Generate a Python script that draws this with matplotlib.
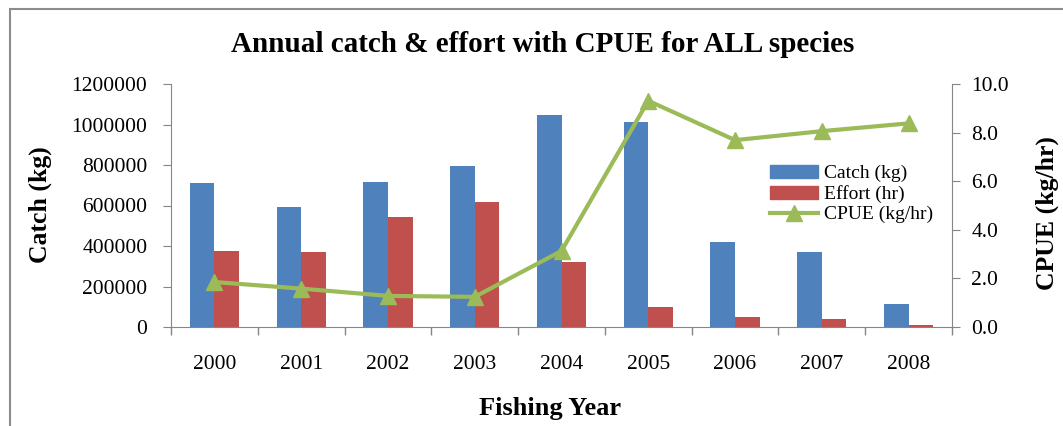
import numpy as np
import matplotlib.pyplot as plt
import matplotlib as mpl
from matplotlib.lines import Line2D
from matplotlib.patches import Rectangle, Patch

mpl.rcParams['font.family'] = 'Liberation Serif'

years = ['2000', '2001', '2002', '2003', '2004', '2005', '2006', '2007', '2008']
catch = [709000, 592000, 717000, 795000, 1049000, 1012000, 420000, 369000, 112000]
effort = [373000, 368000, 542000, 615000, 323000, 100000, 49000, 40000, 11000]
cpue = [1.85, 1.58, 1.28, 1.24, 3.13, 9.31, 7.69, 8.06, 8.38]

c_blue = '#4F81BD'
c_red = '#C0504D'
c_green = '#9BBB59'
c_axis = '#868686'

fig = plt.figure(figsize=(10.63, 4.26), dpi=100)
fig.patches.append(Rectangle((10 / 1063, -0.1), 1.2, 1 - 9 / 426 + 0.1, transform=fig.transFigure,
                             fill=False, edgecolor='#8c8c8c', linewidth=1.5))

ax = fig.add_axes([171 / 1063, 1 - 327 / 426, (952 - 171) / 1063, (327 - 84) / 426])
ax2 = ax.twinx()

x = np.arange(len(years))
w = 0.284
ax.bar(x - w / 2, catch, width=w, color=c_blue, label='Catch (kg)', zorder=2)
ax.bar(x + w / 2, effort, width=w, color=c_red, label='Effort (hr)', zorder=2)
ax2.plot(x, cpue, color=c_green, linewidth=3, marker='^', markersize=12, label='CPUE (kg/hr)')

ax.set_xlim(-0.5, len(years) - 0.5)
ax.set_ylim(0, 1200000)
ax.set_yticks(np.arange(0, 1200001, 200000))
ax.set_yticklabels([str(v) for v in range(0, 1200001, 200000)])
ax2.set_ylim(0, 10)
ax2.set_yticks(np.arange(0, 10.1, 2))
ax2.set_yticklabels(['%.1f' % v for v in np.arange(0, 10.1, 2)])

ax.set_xticks(x)
ax.set_xticklabels(years)
ax.set_xticks(np.arange(-0.5, len(years), 1), minor=True)
ax.tick_params(axis='x', which='major', length=0, pad=20, labelsize=15.5)
ax.tick_params(axis='x', which='minor', length=6, color=c_axis, width=1)
ax.tick_params(axis='y', length=6, color=c_axis, pad=11, labelsize=15.5)
ax2.tick_params(axis='y', length=6, color=c_axis, pad=8, labelsize=15.5)

for a in (ax, ax2):
    a.spines['top'].set_visible(False)
    for s in ('left', 'right', 'bottom'):
        a.spines[s].set_color(c_axis)
ax.spines['right'].set_visible(False)
ax2.spines['left'].set_visible(False)
ax2.spines['bottom'].set_visible(False)

fig.text(543 / 1063, 1 - 44 / 426, 'Annual catch & effort with CPUE for ALL species',
         ha='center', va='center', fontsize=21, fontweight='bold')
fig.text(40 / 1063, 1 - 205 / 426, 'Catch (kg)', rotation=90, ha='center', va='center',
         fontsize=18.5, fontweight='bold')
fig.text(1047 / 1063, 1 - 213 / 426, 'CPUE (kg/hr)', rotation=90, ha='center', va='center',
         fontsize=18.5, fontweight='bold')
fig.text(550 / 1063, 1 - 408 / 426, 'Fishing Year', ha='center', va='center',
         fontsize=19, fontweight='bold')

handles = [Patch(color=c_blue), Patch(color=c_red),
           Line2D([0], [0], color=c_green, linewidth=3, marker='^', markersize=11)]
ax2.legend(handles, ['Catch (kg)', 'Effort (hr)', 'CPUE (kg/hr)'], loc='upper left',
           bbox_to_anchor=((762 - 171) / (952 - 171), (327 - 157) / (327 - 84)),
           frameon=False, fontsize=14, handlelength=2.5, handleheight=0.65,
           labelspacing=0.15, handletextpad=0.3, borderaxespad=0)

fig.savefig('out.png', dpi=100)
